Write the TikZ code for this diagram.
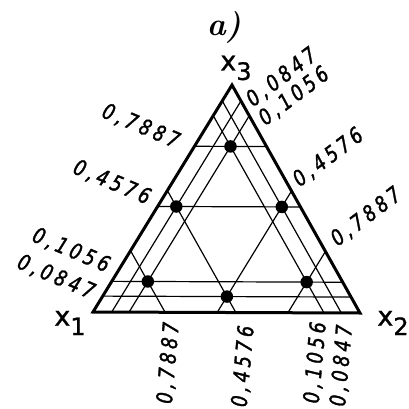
\documentclass[tikz,border=0pt]{standalone}
\usepackage{fontspec}
\usetikzlibrary{calc}
\newfontfamily\lblfont[LetterSpace=18, FakeStretch=0.8, FakeBold=1.5]{DejaVu Sans}
\newfontfamily\cornerfont[FakeBold=1]{DejaVu Sans}
\newcommand\vx[1]{x\raisebox{-0.35em}{\fontsize{24}{24}\selectfont #1}}

\begin{document}
\begin{tikzpicture}[
    x=1pt, y=-1pt,
    edge/.style={line width=3pt},
    level/.style={line width=1.2pt},
    design/.style={circle, fill=black, inner sep=0pt, minimum size=12.5pt},
    val/.style={font=\lblfont\itshape\fontsize{22}{24}\selectfont, inner sep=0pt},
    vertex/.style={font=\cornerfont\fontsize{27}{28}\selectfont, inner sep=0pt},
]
\useasboundingbox (0,0) rectangle (408,409);

% Simplex corners
\coordinate (c1) at (93,312);
\coordinate (c2) at (360,313);
\coordinate (c3) at (232,85);

% Levels as drawn (not to scale)
\def\la{0.07}  % 0,0847
\def\lb{0.135} % 0,1056
\def\lm{0.465} % 0,4576
\def\lB{0.73}  % 0,7887

% Level lines
\foreach \t in {\la,\lb,\lm,\lB} {
  \draw[level] ($(c1)!\t!(c3)$) -- ($(c2)!\t!(c3)$);
  \draw[level] ($(c1)!\t!(c2)$) -- ($(c3)!\t!(c2)$);
  \draw[level] ($(c2)!\t!(c1)$) -- ($(c3)!\t!(c1)$);
}

% Triangle
\draw[edge] (c1) -- (c2) -- (c3) -- cycle;

% Design points
\node[design] (p1) at (barycentric cs:c1=\lB,c2=\lb,c3=\lb) {};
\node[design] (p2) at (barycentric cs:c1=\lb,c2=\lB,c3=\lb) {};
\node[design] (p3) at (barycentric cs:c1=\lb,c2=\lb,c3=\lB) {};
\node[design] (p12) at (barycentric cs:c1=\lm,c2=\lm,c3=\la) {};
\node[design] (p13) at (barycentric cs:c1=\lm,c2=\la,c3=\lm) {};
\node[design] (p23) at (barycentric cs:c1=\la,c2=\lm,c3=\lm) {};

% Values on left side (x3)
\node[val, rotate=-23, anchor=east] (l3B) at ($(c1)!\lB!(c3)+(-16,-4)$) {0,7887};
\node[val, rotate=-23, anchor=east] (l3m) at ($(c1)!\lm!(c3)+(-8,-8)$) {0,4576};
\node[val, rotate=-23, anchor=east] (l3b) at ($(c1)!\lb!(c3)+(-3,-15)$) {0,1056};
\node[val, rotate=-23, anchor=east] (l3a) at ($(c1)!\la!(c3)+(-9,-3)$) {0,0847};

% Values on right side (x2)
\node[val, rotate=37, anchor=west] (l2a) at ($(c3)!\la!(c2)+(8,1)$) {0,0847};
\node[val, rotate=37, anchor=west] (l2b) at ($(c3)!\lb!(c2)+(12,5)$) {0,1056};
\node[val, rotate=37, anchor=west] (l2m) at ($(c3)!\lm!(c2)+(4,-9)$) {0,4576};
\node[val, rotate=37, anchor=west] (l2B) at ($(c3)!\lB!(c2)+(8,-10)$) {0,7887};

% Values on base (x1)
\node[val, rotate=85, anchor=east] (l1B) at ($(c2)!\lB!(c1)+(7,10)$) {0,7887};
\node[val, rotate=85, anchor=east] (l1m) at ($(c2)!\lm!(c1)+(11,13)$) {0,4576};
\node[val, rotate=85, anchor=east] (l1b) at ($(c2)!\lb!(c1)+(-5,9)$) {0,1056};
\node[val, rotate=85, anchor=east] (l1a) at ($(c2)!\la!(c1)+(4,12)$) {0,0847};

% Corner names
\node[vertex] (n1) at (70,323) {\vx{1}};
\node[vertex] (n2) at (393,323) {\vx{2}};
\node[vertex] (n3) at (236,68) {\vx{3}};
\node[font=\bfseries\itshape\fontsize{32}{32}\selectfont] (tag) at (224,27) {a)};

\end{tikzpicture}
\end{document}
